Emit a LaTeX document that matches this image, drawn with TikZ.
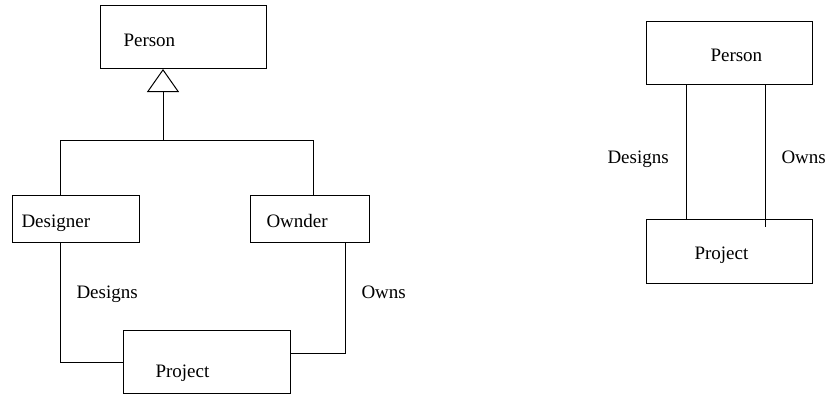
\documentclass[tikz,border=0pt]{standalone}
\usepackage{fontspec}
\setmainfont{Liberation Serif}
\usetikzlibrary{arrows.meta}
\begin{document}
\begin{tikzpicture}[x=1pt,y=-1pt,line width=1pt,
  box/.style={draw,rectangle,inner sep=0pt,anchor=north west,minimum width=#1},
  txt/.style={anchor=base west,inner sep=0pt,font=\fontsize{19}{22}\selectfont},
  gen/.style={-{Triangle[open,width=32pt,length=23pt]}}]
\useasboundingbox (0,0) rectangle (826,396);
% left diagram boxes
\node[box=166pt,minimum height=63pt] (P1) at (100,5) {};
\node[box=127pt,minimum height=47pt] (D) at (12,195) {};
\node[box=119pt,minimum height=47pt] (O) at (250,195) {};
\node[box=167pt,minimum height=63pt] (Pr1) at (123,330) {};
% left texts
\node[txt] (tP1) at (123,46) {Person};
\node[txt] (tD) at (21,227) {Designer};
\node[txt] (tO) at (266,227) {Ownder};
\node[txt] (tPr1) at (155,377) {Project};
\node[txt] (lDes) at (76,298) {Designs};
\node[txt] (lOwn) at (361,298) {Owns};
% helper coordinates
\coordinate (J) at (163,140);
\coordinate (dx) at (60,0);
\coordinate (ox) at (313,0);
\coordinate (ox2) at (345,353);
% generalization
\draw[gen] (J) -- (J |- P1.south);
\draw (dx |- D.north) -- (dx |- J) -- (ox |- J) -- (ox |- O.north);
% associations
\draw (dx |- D.south) |- (Pr1.west);
\draw (ox2 |- O.south) -- (ox2) -- (Pr1.east |- ox2);
% right diagram
\node[box=166pt,minimum height=63pt] (P2) at (646,21) {};
\node[box=166pt,minimum height=64pt] (Pr2) at (646,219) {};
\node[txt] (tP2) at (710,62) {Person};
\node[txt] (tPr2) at (694,259) {Project};
\node[txt] (lDes2) at (607,163) {Designs};
\node[txt] (lOwn2) at (781,163) {Owns};
\coordinate (r1) at (686,0);
\coordinate (r2) at (765,227);
\draw (r1 |- P2.south) -- (r1 |- Pr2.north);
\draw (r2 |- P2.south) -- (r2);
\end{tikzpicture}
\end{document}
